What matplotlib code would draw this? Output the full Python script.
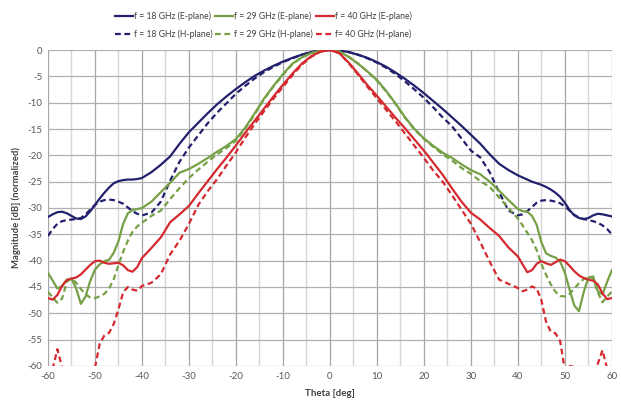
import numpy as np
import matplotlib
matplotlib.use("Agg")
import matplotlib.pyplot as plt
from matplotlib.ticker import MultipleLocator

plt.rcParams["axes.unicode_minus"] = False
plt.rcParams["font.family"] = ["Lato", "DejaVu Sans"]

# angle grid: 1 deg steps at the edges, 2 deg in the main lobe
theta = list(range(-60, -40)) + list(range(-40, 41, 2)) + list(range(41, 61))

e18 = [-31.7, -31.2, -30.8, -30.7, -31.0, -31.5, -32.0, -32.1, -31.6, -30.6,
       -29.4, -28.2, -27.1, -26.1, -25.3, -24.9, -24.7, -24.6, -24.6, -24.5,
       -24.3, -23.2, -21.8, -20.2, -17.8, -15.6, -13.8, -12.0, -10.3, -8.8,
       -7.4, -6.1, -4.9, -3.9, -3.0, -2.2, -1.5, -0.9, -0.4, -0.1,
       0.0,
       -0.1, -0.4, -0.9, -1.5, -2.3, -3.2, -4.3, -5.5, -6.8, -8.2,
       -9.7, -11.2, -12.8, -14.4, -16.1, -17.8, -19.8, -21.6, -22.8, -23.8,
       -24.2, -24.6, -25.0, -25.3, -25.6, -26.0, -26.5, -27.1, -27.9, -29.0,
       -30.4, -31.4, -31.9, -32.1, -31.9, -31.4, -31.1, -31.2, -31.4, -31.6]

h18 = [-35.3, -34.0, -33.0, -32.5, -32.3, -32.2, -32.1, -31.9, -31.2, -30.3,
       -29.4, -28.8, -28.5, -28.4, -28.5, -28.8, -29.2, -29.9, -30.6, -31.1,
       -31.4, -30.9, -28.8, -24.8, -21.2, -18.5, -16.2, -13.9, -11.9, -10.1,
       -8.3, -6.8, -5.4, -4.2, -3.2, -2.3, -1.6, -0.9, -0.4, -0.1,
       0.0,
       -0.1, -0.4, -0.9, -1.6, -2.4, -3.4, -4.6, -6.0, -7.5, -9.1,
       -10.9, -12.8, -14.5, -16.8, -19.1, -20.4, -23.2, -27.0, -30.5, -31.4,
       -31.2, -30.6, -29.8, -29.0, -28.6, -28.5, -28.6, -28.8, -29.1, -29.7,
       -30.5, -31.3, -31.8, -32.1, -32.3, -32.5, -32.8, -33.3, -34.0, -35.0]

e29 = [-42.3, -43.8, -45.3, -44.8, -43.6, -43.4, -45.3, -48.2, -46.8, -43.8,
       -41.7, -40.7, -40.1, -39.8, -38.5, -36.3, -33.0, -31.0, -30.4, -30.2,
       -30.0, -28.8, -27.0, -25.2, -23.3, -22.6, -21.6, -20.5, -19.3, -18.2,
       -16.9, -14.7, -12.0, -9.2, -6.8, -4.6, -2.6, -1.4, -0.6, -0.1,
       0.0,
       -0.3, -1.3, -2.6, -4.1, -5.7, -7.8, -10.2, -12.8, -15.0, -16.8,
       -18.2, -19.5, -20.5, -21.7, -22.8, -23.6, -25.0, -26.7, -28.5, -30.2,
       -30.6, -30.7, -31.5, -33.2, -36.5, -38.6, -39.1, -39.4, -40.2, -42.3,
       -45.5, -48.5, -49.6, -46.0, -43.2, -43.0, -45.8, -46.4, -44.0, -41.8]

h29 = [-45.9, -47.0, -48.0, -47.2, -44.0, -43.4, -44.2, -45.4, -46.4, -47.0,
       -47.1, -46.8, -46.3, -45.3, -43.5, -40.8, -38.3, -36.2, -34.5, -33.5,
       -32.8, -31.5, -30.5, -28.3, -26.2, -24.3, -22.7, -21.2, -19.8, -18.6,
       -17.2, -14.9, -12.2, -9.3, -6.9, -4.7, -2.7, -1.4, -0.6, -0.1,
       0.0,
       -0.3, -1.3, -2.6, -4.1, -5.8, -7.9, -10.3, -12.9, -15.1, -16.9,
       -18.4, -19.8, -21.0, -22.4, -23.5, -24.9, -26.0, -28.0, -30.0, -32.0,
       -33.3, -34.7, -36.1, -38.0, -40.6, -42.7, -44.5, -45.9, -46.7, -46.8,
       -46.3, -45.3, -44.3, -43.5, -43.1, -43.3, -46.0, -47.9, -46.8, -45.9]

e40 = [-47.1, -47.4, -46.5, -44.8, -43.7, -43.4, -43.2, -42.6, -41.7, -40.8,
       -40.1, -40.0, -40.4, -40.6, -40.5, -40.4, -40.9, -41.8, -42.1, -41.2,
       -39.5, -37.6, -35.6, -32.7, -31.2, -29.6, -27.2, -24.9, -22.6, -20.4,
       -18.1, -15.7, -13.4, -11.1, -8.8, -6.6, -4.5, -2.6, -1.2, -0.3,
       0.0,
       -0.6, -2.4, -4.5, -6.7, -8.7, -10.8, -12.9, -14.9, -17.0, -19.1,
       -21.4, -23.7, -26.3, -28.8, -30.9, -32.2, -33.8, -35.3, -37.5, -39.2,
       -40.7, -42.2, -41.8, -40.6, -40.1, -40.5, -40.8, -40.3, -39.8, -40.1,
       -41.0, -42.0, -42.8, -43.3, -43.6, -43.8, -44.5, -46.2, -47.3, -47.1]

h40 = [-64.0, -60.5, -56.8, -60.3, -64.0, -66.0, -67.0, -67.0, -65.0, -62.5,
       -60.3, -55.8, -54.2, -53.7, -52.0, -49.2, -46.0, -45.0, -45.5, -45.7,
       -44.8, -44.2, -42.6, -38.8, -36.2, -33.0, -29.4, -26.8, -24.5, -21.9,
       -19.4, -16.6, -14.0, -11.6, -9.2, -7.0, -4.8, -2.8, -1.3, -0.3,
       0.0,
       -0.6, -2.5, -4.7, -7.0, -9.2, -11.4, -13.6, -15.9, -18.2, -20.5,
       -22.9, -25.0, -27.6, -30.3, -33.0, -36.5, -40.2, -43.6, -44.4, -45.2,
       -45.8, -45.5, -44.9, -45.3, -47.5, -51.6, -53.5, -53.8, -55.3, -60.8,
       -60.0, -60.2, -62.0, -64.0, -64.0, -62.0, -59.6, -57.0, -60.5, -63.0]

navy = "#23206e"
green = "#76a046"
red = "#d42a2f"

fig = plt.figure(figsize=(6.21, 4.01), dpi=100)
ax = fig.add_axes([0.0773, 0.0873, 0.908, 0.788])

lw = 1.6
dash = (2.6, 1.6)
series = [
    (e18, navy, "-", "f = 18 GHz (E-plane)"),
    (h18, navy, "--", "f = 18 GHz (H-plane)"),
    (e29, green, "-", "f = 29 GHz (E-plane)"),
    (h29, green, "--", "f = 29 GHz (H-plane)"),
    (e40, red, "-", "f = 40 GHz (E-plane)"),
    (h40, red, "--", "f= 40 GHz (H-plane)"),
]
for vals, col, ls, lab in series:
    line, = ax.plot(theta, vals, color=col, lw=lw, label=lab)
    if ls == "--":
        line.set_dashes(dash)

ax.set_xlim(-60, 60)
ax.set_ylim(-60, 0)
ax.xaxis.set_major_locator(MultipleLocator(10))
ax.xaxis.set_minor_locator(MultipleLocator(5))
ax.yaxis.set_major_locator(MultipleLocator(5))

ax.grid(which="major", axis="x", color="#a6a6a6", lw=0.9)
ax.grid(which="minor", axis="x", color="#d6d6d6", lw=1.0)
ax.grid(which="major", axis="y", color="#b0b0b0", lw=0.9)
ax.set_axisbelow(True)
for s in ax.spines.values():
    s.set_visible(False)

ax.tick_params(which="both", length=0, labelsize=7, labelcolor="#595959", pad=4)
ax.set_xlabel("Theta [deg]", fontsize=7, fontweight="bold", color="#404040", labelpad=6)
ax.set_ylabel("Magnitude [dB] (normalized)", fontsize=6.8, fontweight="bold",
              color="#404040", labelpad=5)

leg = fig.legend(loc="upper center", bbox_to_anchor=(0.424, 0.99), ncol=3,
                 frameon=False, fontsize=6.2, handlelength=2.1, handletextpad=0.15,
                 columnspacing=0.3, labelspacing=0.9)
for t in leg.get_texts():
    t.set_color("#404040")

fig.savefig("out.png", dpi=100)
